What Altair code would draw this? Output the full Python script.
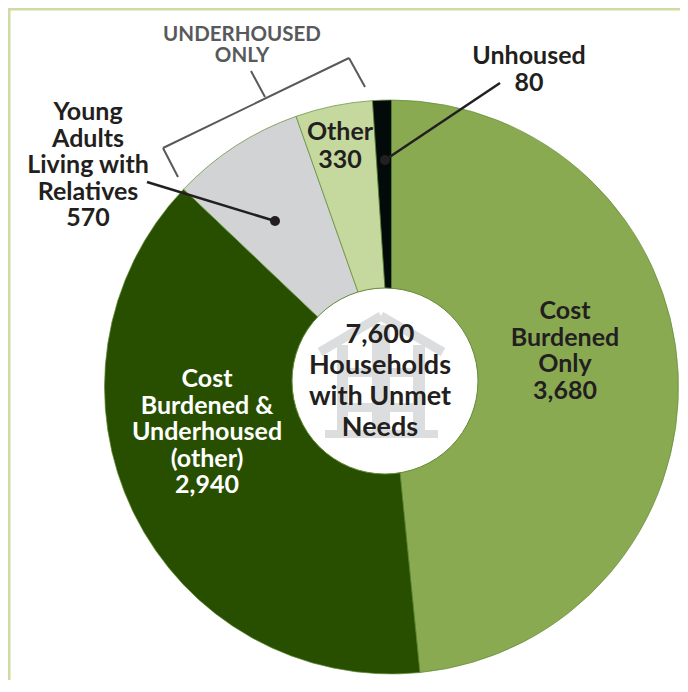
import altair as alt
import pandas as pd

categories = ["Cost Burdened Only", "Cost Burdened & Underhoused (other)",
              "Young Adults Living with Relatives", "Other", "Unhoused"]
values = [3680, 2940, 570, 330, 80]
colors = ["#8aaa52", "#284f00", "#d1d3d4", "#c5d89d", "#020a0a"]

df = pd.DataFrame({"cat": categories, "val": values, "ord": list(range(len(values)))})
one = pd.DataFrame({"a": [0]})
FONT = "Lato"
DX = DY = 8  # page margin


def px(x):
    return alt.value(x - DX)


def py(y):
    return alt.value(y - DY)


def rect(x1, y1, x2, y2, color):
    return alt.Chart(one).mark_rect(color=color).encode(
        x=px(x1), x2=px(x2), y=py(y1), y2=py(y2))


def seg(x1, y1, x2, y2, color, w, cap="butt"):
    return alt.Chart(one).mark_rule(color=color, strokeWidth=w, strokeCap=cap).encode(
        x=px(x1), x2=px(x2), y=py(y1), y2=py(y2))


def dot(x, y, r, color, stroke=None, sw=0):
    kw = {"stroke": stroke, "strokeWidth": sw} if stroke else {"strokeWidth": 0}
    return alt.Chart(one).mark_point(filled=True, shape="circle", opacity=1, color=color, **kw).encode(
        x=px(x), y=py(y), size=alt.value(4 * r * r))


def label(txt, x, y, size, color="#231f20", lh=26.5, weight="bold"):
    # y is the centre of the first line
    return alt.Chart(pd.DataFrame({"t": [txt]})).mark_text(
        font=FONT, fontSize=size, fontWeight=weight, color=color, align="center",
        baseline="middle", lineBreak="\n", lineHeight=lh).encode(
        x=px(x), y=py(y), text="t:N")


pie = alt.Chart(df).mark_arc(radius=287, stroke="#5f8a35", strokeWidth=0.7).encode(
    theta=alt.Theta("val:Q", stack=True),
    order=alt.Order("ord:Q"),
    color=alt.Color("cat:N", scale=alt.Scale(domain=categories, range=colors), legend=None),
    x=px(391.5), y=py(387),
)

BAND = "#cddca5"
HOUSE = "#dcddde"
GREY = "#58595b"
INK = "#231f20"

layers = [
    rect(0, 0, 688, 10.5, BAND),
    rect(0, 0, 10.5, 692, BAND),
    pie,
    dot(385, 381, 93, "#ffffff", "#5f8a35", 1),
    # house icon behind the centre text
    seg(320, 352, 381, 316, HOUSE, 9),
    seg(381, 316, 443, 352, HOUSE, 9),
    rect(337, 345, 348, 432, HOUSE),
    rect(413, 345, 425, 432, HOUSE),
    rect(372, 325, 390, 432, HOUSE),
    rect(337, 368, 425, 377, HOUSE),
    rect(337, 403, 425, 412, HOUSE),
    rect(325, 430, 438, 438, HOUSE),
    # bracket
    seg(178, 177, 163, 148, GREY, 2),
    seg(163, 148, 349, 58, GREY, 2),
    seg(349, 58, 365, 87, GREY, 2),
    seg(251, 71, 265, 97, GREY, 2),
    # leaders
    seg(500, 83, 385, 160, INK, 2.5),
    dot(385, 160, 5, INK),
    seg(147, 182, 275, 221, INK, 2.5),
    dot(275, 221, 5, INK),
    # labels
    label("Cost\nBurdened\nOnly\n3,680", 565, 311, 25),
    label("Cost\nBurdened &\nUnderhoused\n(other)\n2,940", 207, 379, 25, "#ffffff"),
    label("Other\n330", 340, 132, 25, lh=28),
    label("Unhoused\n80", 529, 56, 25),
    label("Young\nAdults\nLiving with\nRelatives\n570", 88, 112, 25),
    label("UNDERHOUSED\nONLY", 242, 35, 20.5, GREY, lh=21),
    label("7,600\nHouseholds\nwith Unmet\nNeeds", 380, 335, 27, lh=31),
]

chart = alt.layer(*layers).properties(
    width=672, height=672, padding=0, background="#ffffff",
    autosize=alt.AutoSizeParams(type="none"),
).configure_view(stroke=None)

chart.save("out.html", embed_options={"renderer": "svg", "actions": False})
